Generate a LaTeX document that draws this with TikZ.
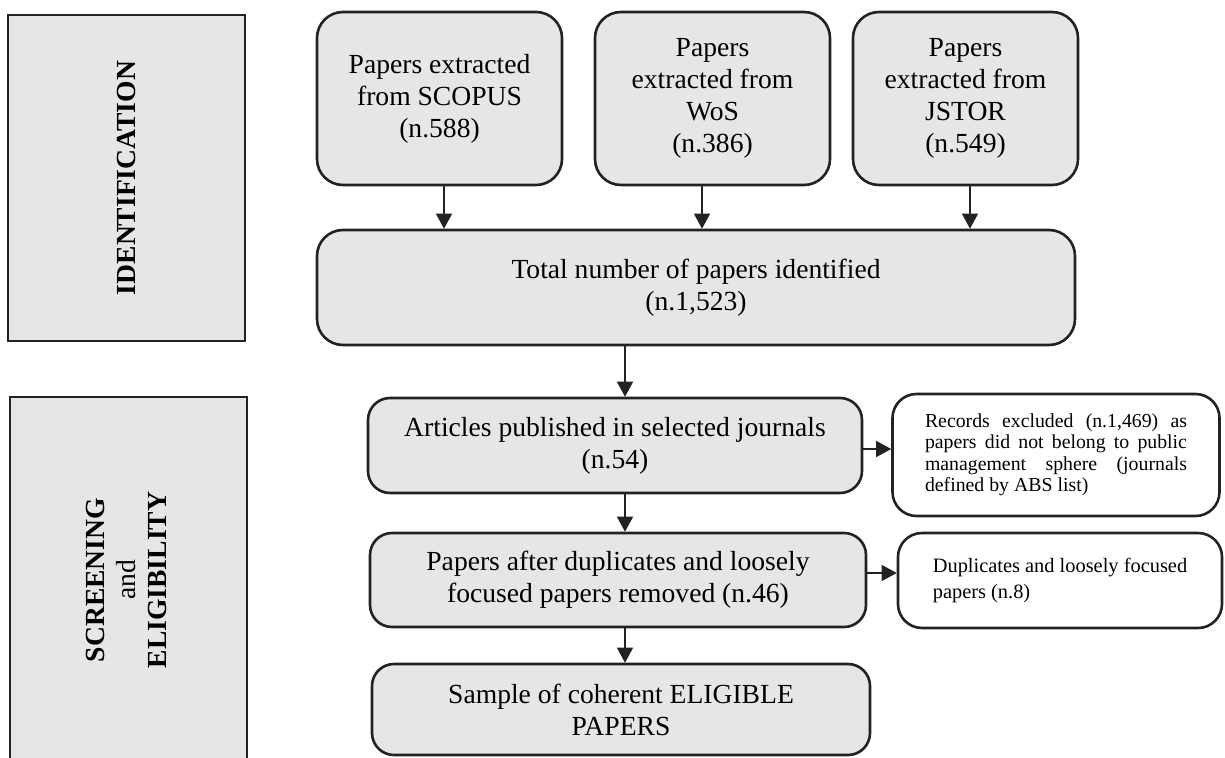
\documentclass[tikz,border=0pt]{standalone}
\usepackage{fontspec}
\setmainfont{Liberation Serif}
\usetikzlibrary{arrows.meta}
\definecolor{boxgray}{HTML}{E6E6E6}
\definecolor{ink}{HTML}{222222}
\begin{document}
\begin{tikzpicture}[x=1pt,y=-1pt,
  big/.style={font=\fontsize{27.6}{32}\selectfont},
  small/.style={font=\fontsize{19.8}{21.5}\selectfont},
  phase/.style={draw=ink,line width=2.6pt,fill=boxgray,inner sep=0pt,
    font=\fontsize{27.6}{33}\selectfont,align=center},
  graybox/.style={draw=ink,line width=2.6pt,fill=boxgray,rounded corners=26pt,
    inner sep=0pt,align=center,big},
  whitebox/.style={draw=ink,line width=2.6pt,fill=white,rounded corners=24pt,
    inner sep=0pt},
  arr/.style={draw=ink,line width=1.3pt,-{Triangle[width=16pt,length=15pt]}}
]
\useasboundingbox (0,0) rectangle (1225,757);

% phase boxes
\node[phase,minimum width=237pt,minimum height=326pt] (ident) at (126.5,178)
  {\rotatebox{90}{\textbf{IDENTIFICATION}}};
\node[phase,minimum width=237pt,minimum height=366pt] (screen) at (128.5,580)
  {\rotatebox{90}{\begin{tabular}{@{}c@{}}\textbf{SCREENING}\\[-2pt] and\\[-2pt] \textbf{ELIGIBILITY}\end{tabular}}};

% top sources
\node[graybox,minimum width=245pt,minimum height=173pt] (scopus) at (439.5,98.5)
  {Papers extracted\\from SCOPUS\\(n.588)};
\node[graybox,minimum width=235pt,minimum height=173pt] (wos) at (712.5,98.5)
  {Papers\\extracted from\\WoS\\(n.386)};
\node[graybox,minimum width=225pt,minimum height=173pt] (jstor) at (965.5,98.5)
  {Papers\\extracted from\\JSTOR\\(n.549)};

% total
\node[graybox,minimum width=758pt,minimum height=115pt] (total) at (696,287.5)
  {Total number of papers identified\\(n.1,523)};

% screening chain
\node[graybox,rounded corners=22pt,minimum width=494pt,minimum height=95pt] (arts) at (615,445.5)
  {Articles published in selected journals\\(n.54)};
\node[graybox,rounded corners=22pt,minimum width=496pt,minimum height=94pt] (after) at (618,580)
  {Papers after duplicates and loosely\\focused papers removed (n.46)};
\node[graybox,rounded corners=22pt,minimum width=498pt,minimum height=91pt] (sample) at (621,709.5)
  {Sample of coherent ELIGIBLE\\PAPERS};

% exclusion boxes
\node[whitebox,minimum width=327pt,minimum height=122pt,small,text width=262pt,align=justify] (excl1) at (1056,455)
  {Records excluded (n.1,469) as\linebreak papers did not belong to public\linebreak management sphere (journals\linebreak defined by ABS list)};
\node[whitebox,minimum width=324pt,minimum height=95pt,font=\fontsize{20.4}{25.7}\selectfont,align=left] (excl2) at (1060,580.5)
  {Duplicates and loosely focused\\papers (n.8)};

% arrows
\draw[arr] ([xshift=4.5pt]scopus.south) -- ([xshift=4.5pt]scopus.south |- total.north);
\draw[arr] ([xshift=-10.5pt]wos.south) -- ([xshift=-10.5pt]wos.south |- total.north);
\draw[arr] ([xshift=4.5pt]jstor.south) -- ([xshift=4.5pt]jstor.south |- total.north);
\draw[arr] ([xshift=10pt]arts.north |- total.south) -- ([xshift=10pt]arts.north);
\draw[arr] ([xshift=10pt]arts.south) -- ([xshift=10pt]arts.south |- after.north);
\draw[arr] ([xshift=7pt]after.south) -- ([xshift=7pt]after.south |- sample.north);
\draw[arr] ([yshift=-3.5pt]arts.east) -- ([yshift=-3.5pt]arts.east -| excl1.west);
\draw[arr] ([yshift=7pt]after.east) -- ([yshift=7pt]after.east -| excl2.west);
\end{tikzpicture}
\end{document}
